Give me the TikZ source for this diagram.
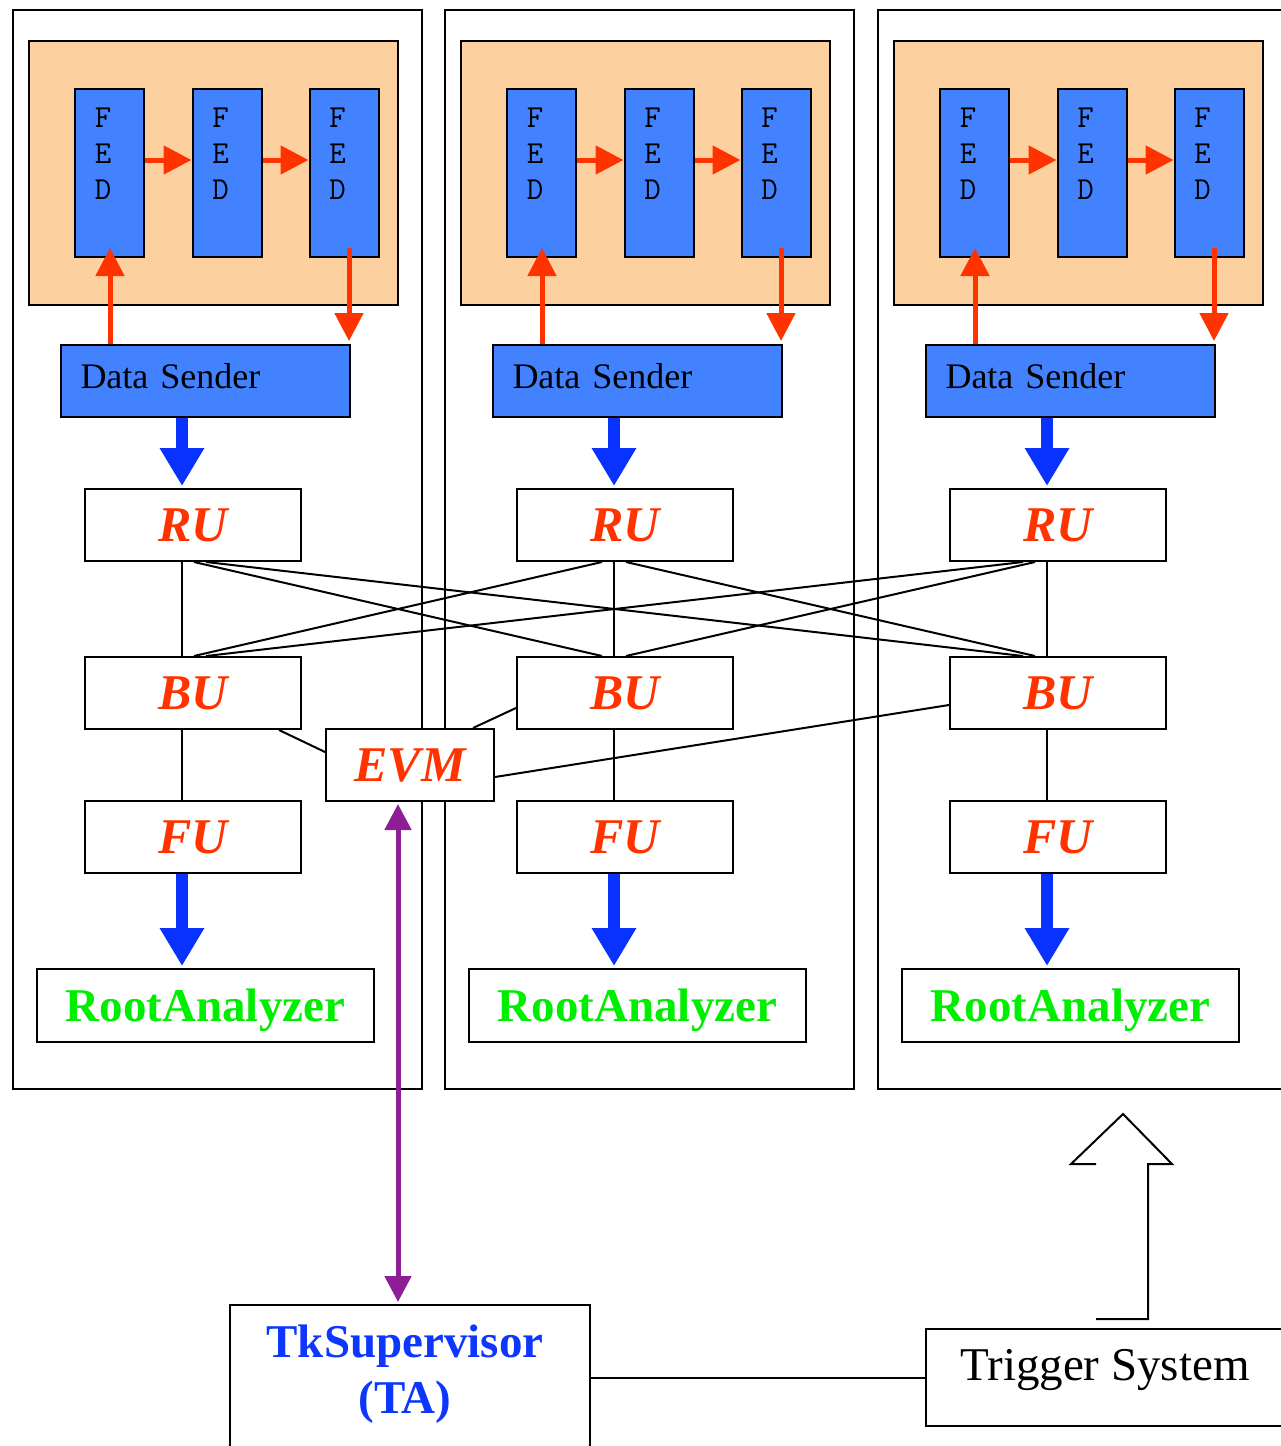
\documentclass[tikz,border=0pt]{standalone}
\usepackage{fontspec}
\setmainfont{Liberation Serif}
\usetikzlibrary{arrows.meta,calc}

\definecolor{peach}{HTML}{FDD0A0}
\definecolor{fedblue}{HTML}{4282FF}
\definecolor{arrred}{HTML}{FF3300}
\definecolor{arrblue}{HTML}{0A32FF}
\definecolor{ragreen}{HTML}{00EE00}
\definecolor{evpurple}{HTML}{8E1E96}
\definecolor{tkblue}{HTML}{0D36FF}

\tikzset{
  box/.style={draw=black, line width=2pt, rectangle, inner sep=0pt},
  panelbox/.style={draw=black, line width=2pt},
  peachbox/.style={box, fill=peach, minimum width=369pt, minimum height=264pt},
  fedbox/.style={box, fill=fedblue, minimum width=69pt, minimum height=168pt},
  fedtext/.style={inner sep=0pt, align=center, font=\ttfamily\fontsize{32}{36}\selectfont},
  dsbox/.style={box, fill=fedblue, minimum width=289pt, minimum height=72pt,
    text width=250pt, align=left, text depth=10pt, font=\fontsize{36}{40}\selectfont},
  unitbox/.style={box, fill=white, minimum width=216pt, minimum height=72pt,
    text=arrred, font=\fontsize{50}{56}\selectfont\bfseries\itshape},
  rabox/.style={box, fill=white, minimum width=337pt, minimum height=73pt,
    text depth=0pt, text=ragreen, font=\fontsize{47}{52}\selectfont\bfseries},
  wire/.style={draw=black, line width=2pt},
  redarrow/.style={draw=arrred, line width=5pt, -{Triangle[length=28pt,width=28pt]}},
  bluearrow/.style={draw=arrblue, line width=12pt, -{Triangle[length=38pt,width=42pt]}},
  purplearrow/.style={draw=evpurple, line width=5pt,
    {Triangle[length=26pt,width=26pt]}-{Triangle[length=26pt,width=26pt]}},
}

\begin{document}
\begin{tikzpicture}[x=1pt,y=-1pt]
\useasboundingbox (0,0) rectangle (1281,1446);
\clip (0,0) rectangle (1281,1446);

% three identical readout columns
\foreach \i/\dx/\pr in {1/0/422, 2/432/422, 3/865/425} {
  \begin{scope}[xshift=\dx pt]
    \draw[panelbox] (13,10) rectangle (\pr,1089);
    \coordinate (c\i) at (182,0);
    \coordinate (up\i) at (110,248);
    \coordinate (dn\i) at (349,248);
    \node[peachbox] (fe\i) at (213.5,173) {};
    \node[fedbox] (fa\i) at (109.5,173) {};
    \node[fedbox] (fb\i) at (227,173) {};
    \node[fedbox] (fc\i) at (344,173) {};
    \node[fedtext] (ta\i) at (103,154) {F\\E\\D};
    \node[fedtext] (tb\i) at (220.5,154) {F\\E\\D};
    \node[fedtext] (tc\i) at (337.5,154) {F\\E\\D};
    \node[dsbox] (ds\i) at (205.5,381) {Data Sender};
    \node[unitbox] (ru\i) at (193,525) {RU};
    \node[unitbox] (bu\i) at (193,693) {BU};
    \node[unitbox] (fu\i) at (193,837) {FU};
    \node[rabox] (ra\i) at (205.5,1005.5) {RootAnalyzer};
  \end{scope}
  % FED chain and data sender loop
  \draw[redarrow] ($(fa\i.east)+(0,-13)$) -- ($(fb\i.west)+(0,-13)$);
  \draw[redarrow] ($(fb\i.east)+(0,-13)$) -- ($(fc\i.west)+(0,-13)$);
  \draw[redarrow] (ds\i.north -| up\i) -- (up\i);
  \draw[redarrow] (dn\i) -- ($(ds\i.north -| dn\i)+(0,-3)$);
  % data flow
  \draw[bluearrow] (ds\i.south -| c\i) -- ($(ru\i.north -| c\i)+(0,-2)$);
  \draw[wire] (ru\i.south -| c\i) -- (bu\i.north -| c\i);
  \draw[wire] (bu\i.south -| c\i) -- (fu\i.north -| c\i);
  \draw[bluearrow] (fu\i.south -| c\i) -- ($(ra\i.north -| c\i)+(0,-2)$);
}

% RU to BU cross connections
\foreach \i in {1,2,3} {
  \foreach \j in {1,2,3} {
    \ifnum\i=\j\relax\else
      \draw[wire] ($(ru\i.south -| c\i)+({12*(\j-\i)},0)$) --
                  ($(bu\j.north -| c\j)+({12*(\i-\j)},0)$);
    \fi
  }
}

% event manager
\node[unitbox, minimum width=168pt] (evm) at (410,765) {EVM};
\coordinate (pa) at (398,0);
\draw[wire] ($(bu1.south east)+(-23,0)$) -- ($(evm.west)+(0,-13)$);
\draw[wire] ($(bu2.west)+(0,15)$) -- ($(evm.north east)+(-22,0)$);
\draw[wire] ($(bu3.west)+(0,12)$) -- ($(evm.east)+(0,12)$);

% supervisor and trigger
\node[box, fill=white, minimum width=360pt, minimum height=155pt] (tk) at (410,1382.5) {};
\node[inner sep=0pt, align=center, text=tkblue, font=\fontsize{47}{56}\selectfont\bfseries]
  (tkt) at (405,1374) {TkSupervisor\\(TA)};
\node[box, fill=white, minimum width=364pt, minimum height=97pt] (trig) at (1108,1377.5) {};
\node[inner sep=0pt, font=\fontsize{47}{52}\selectfont] (trigt) at (1105,1370) {Trigger System};
\draw[wire] (tk.east |- 0,1378) -- (trig.west |- 0,1378);
\draw[purplearrow] ($(evm.south -| pa)+(0,2)$) -- ($(tk.north -| pa)+(0,-2)$);

% open outline arrow above the trigger
\draw[line width=2pt, line join=miter] (1096,1319) -- (1148,1319) -- (1148,1164) -- (1172,1164)
  -- (1123,1114) -- (1071,1164) -- (1096,1164);
\end{tikzpicture}
\end{document}
